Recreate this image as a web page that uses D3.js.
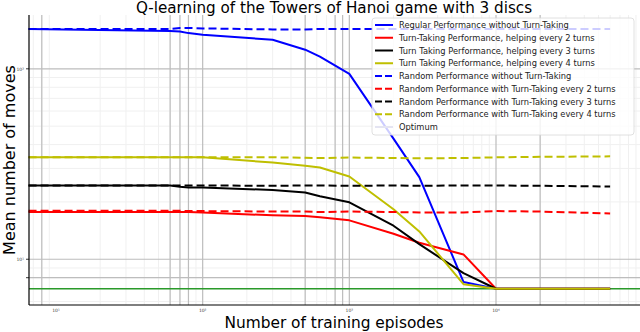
<!DOCTYPE html>
<html>
<head>
<meta charset="utf-8">
<script src="https://cdn.jsdelivr.net/npm/d3@7"></script>
<style>
  body { margin: 0; background: #fff; }
  svg { display: block; font-family: "DejaVu Sans", sans-serif; }
</style>
</head>
<body>
<div id="chart"></div>
<script>
// episodes at which every run was sampled
const episodes = [6.5, 60, 70, 80, 100, 300, 500, 630, 1000, 2000, 3000, 6000, 10000, 20000, 60000];

// learning curves (mean moves)
const regular = [162, 158, 157, 154, 151, 142, 126, 116, 94, 43, 27, 7.6, 7, 7, 7];
const turnTaking2 = [17.7, 17.7, 17.7, 17.7, 17.6, 17.0, 16.85, 16.6, 16.0, 13.6, 12.2, 10.6, 7, 7, 7];
const turnTaking3 = [24.4, 24.4, 24.0, 23.8, 23.8, 23.1, 22.4, 21.4, 19.9, 15.0, 12.0, 8.45, 7, 7, 7];
const turnTaking4 = [34.3, 34.3, 34.3, 34.3, 34.3, 32.2, 31.0, 30.3, 27.2, 18.3, 14.0, 7.4, 7, 7, 7];

// random baselines
const randomNoTT = [162, 162, 164, 164, 163, 161, 161, 162, 162, 162, 162, 162, 162, 162, 162];
const random2 = [18.0, 18.0, 18.0, 17.9, 17.9, 17.8, 17.8, 17.7, 17.8, 17.7, 17.6, 17.6, 17.9, 17.8, 17.4];
const random3 = [24.4, 24.4, 24.4, 24.4, 24.4, 24.3, 24.4, 24.4, 24.3, 24.4, 24.3, 24.4, 24.4, 24.3, 24.1];
const random4 = [34.3, 34.3, 34.3, 34.3, 34.3, 34.3, 34.1, 34.0, 34.2, 34.0, 33.9, 34.0, 34.3, 34.5, 34.7];

const optimum = 7;

// axis ticks and the odd gray grid lines of the original
const xTickValues = [10, 100, 1000, 10000];
const xTickLabels = ["10¹", "10²", "10³", "10⁴"];
const yTickValues = [10, 100];
const yTickLabels = ["10¹", "10²"];
const xGridValues = [8, 60, 70, 80, 100, 500, 800, 900, 1000, 10000, 20000];
const yGridValues = [8, 10, 100];

const legendLabels = [
  "Regular Performance without Turn-Taking",
  "Turn-Taking Performance, helping every 2 turns",
  "Turn Taking Performance, helping every 3 turns",
  "Turn Taking Performance, helping every 4 turns",
  "Random Performance without Turn-Taking",
  "Random Performance with Turn-Taking every 2 turns",
  "Random Performance with Turn-Taking every 3 turns",
  "Random Performance with Turn-Taking every 4 turns",
  "Optimum",
];

const WIDTH = 640;
const HEIGHT = 332;
const LEFT = 29;
const RIGHT = 640;
const TOP = 15;
const BOTTOM = 305;

const BLUE = "#0000ff";
const RED = "#ff0000";
const BLACK = "#000000";
const YELLOW = "#bfbf00";
const GREEN = "#2a9a2a";

const series = [
  { values: regular, color: BLUE, dash: null },
  { values: turnTaking2, color: RED, dash: null },
  { values: turnTaking3, color: BLACK, dash: null },
  { values: turnTaking4, color: YELLOW, dash: null },
  { values: randomNoTT, color: BLUE, dash: "8,4" },
  { values: random2, color: RED, dash: "8,4" },
  { values: random3, color: BLACK, dash: "8,4" },
  { values: random4, color: YELLOW, dash: "8,4" },
];

const x = d3.scaleLog().domain([6.545, 95900]).range([LEFT, RIGHT]);
const y = d3.scaleLog().domain([5.75, 191.7]).range([BOTTOM, TOP]);

const svg = d3.select("#chart").append("svg")
  .attr("width", WIDTH)
  .attr("height", HEIGHT);

// light minor grid
const minors = d3.range(0, 6).flatMap(e => d3.range(2, 10).map(m => m * Math.pow(10, e)));
svg.append("g").selectAll("line")
  .data(minors.filter(v => v > x.domain()[0] && v < x.domain()[1]))
  .join("line")
  .attr("x1", d => x(d)).attr("x2", d => x(d))
  .attr("y1", TOP).attr("y2", BOTTOM)
  .attr("stroke", "#f0f0f0").attr("stroke-width", 1);
svg.append("g").selectAll("line")
  .data(minors.filter(v => v > y.domain()[0] && v < y.domain()[1]))
  .join("line")
  .attr("x1", LEFT).attr("x2", RIGHT)
  .attr("y1", d => y(d)).attr("y2", d => y(d))
  .attr("stroke", "#f0f0f0").attr("stroke-width", 1);

// gray grid
svg.append("g").selectAll("line")
  .data(xGridValues)
  .join("line")
  .attr("x1", d => x(d)).attr("x2", d => x(d))
  .attr("y1", TOP).attr("y2", BOTTOM)
  .attr("stroke", "#bdbdbd").attr("stroke-width", 1.2);
svg.append("g").selectAll("line")
  .data(yGridValues)
  .join("line")
  .attr("x1", LEFT).attr("x2", RIGHT)
  .attr("y1", d => y(d)).attr("y2", d => y(d))
  .attr("stroke", "#bdbdbd").attr("stroke-width", 1.2);

// optimum
svg.append("line")
  .attr("x1", LEFT).attr("x2", RIGHT)
  .attr("y1", y(optimum)).attr("y2", y(optimum))
  .attr("stroke", GREEN).attr("stroke-width", 1.6);

// curves
const line = d3.line()
  .x((d, i) => x(episodes[i]))
  .y(d => y(d));

svg.append("g").selectAll("path")
  .data(series)
  .join("path")
  .attr("d", d => line(d.values))
  .attr("fill", "none")
  .attr("stroke", d => d.color)
  .attr("stroke-width", 2)
  .attr("stroke-dasharray", d => d.dash)
  .attr("stroke-linejoin", "round");

// axes
svg.append("line")
  .attr("x1", LEFT).attr("x2", LEFT).attr("y1", TOP).attr("y2", BOTTOM)
  .attr("stroke", "#000").attr("stroke-width", 1.2);
svg.append("line")
  .attr("x1", LEFT).attr("x2", RIGHT).attr("y1", BOTTOM).attr("y2", BOTTOM)
  .attr("stroke", "#000").attr("stroke-width", 1.2);

svg.append("g").selectAll("line")
  .data(yGridValues)
  .join("line")
  .attr("x1", LEFT - 3).attr("x2", LEFT)
  .attr("y1", d => y(d)).attr("y2", d => y(d))
  .attr("stroke", "#000").attr("stroke-width", 0.8);

svg.append("g").selectAll("text")
  .data(xTickValues)
  .join("text")
  .attr("x", d => x(d))
  .attr("y", BOTTOM + 6.5)
  .attr("text-anchor", "middle")
  .attr("font-size", 4.5)
  .attr("fill", "#444")
  .text((d, i) => xTickLabels[i]);

svg.append("g").selectAll("text")
  .data(yTickValues)
  .join("text")
  .attr("x", LEFT - 5)
  .attr("y", d => y(d) + 2)
  .attr("text-anchor", "end")
  .attr("font-size", 4.5)
  .attr("fill", "#444")
  .text((d, i) => yTickLabels[i]);

// titles
svg.append("text")
  .attr("x", 334).attr("y", 13)
  .attr("text-anchor", "middle")
  .attr("font-size", 15.2)
  .text("Q-learning of the Towers of Hanoi game with 3 discs");

svg.append("text")
  .attr("x", 334).attr("y", 328)
  .attr("text-anchor", "middle")
  .attr("font-size", 15.4)
  .text("Number of training episodes");

svg.append("text")
  .attr("transform", "translate(14.5,160) rotate(-90)")
  .attr("text-anchor", "middle")
  .attr("font-size", 16)
  .text("Mean number of moves");

// legend
const legendItems = series.map(s => ({ color: s.color, dash: s.dash }))
  .concat([{ color: "#e4e4f2", dash: null }]);

const legend = svg.append("g").attr("transform", "translate(372,18)");
legend.append("rect")
  .attr("width", 262).attr("height", 117).attr("rx", 3)
  .attr("fill", "#fff").attr("fill-opacity", 0.8)
  .attr("stroke", "#d8d8d8").attr("stroke-width", 0.8);

const rows = legend.selectAll("g.row")
  .data(legendItems)
  .join("g")
  .attr("class", "row")
  .attr("transform", (d, i) => `translate(0,${7 + i * 12.75})`);

rows.append("line")
  .attr("x1", 3).attr("x2", 21)
  .attr("stroke", d => d.color)
  .attr("stroke-width", 2)
  .attr("stroke-dasharray", d => d.dash ? "7,3" : null);

rows.append("text")
  .attr("x", 27).attr("y", 3)
  .attr("font-size", 8.3)
  .attr("fill", "#222")
  .text((d, i) => legendLabels[i]);
</script>
</body>
</html>
